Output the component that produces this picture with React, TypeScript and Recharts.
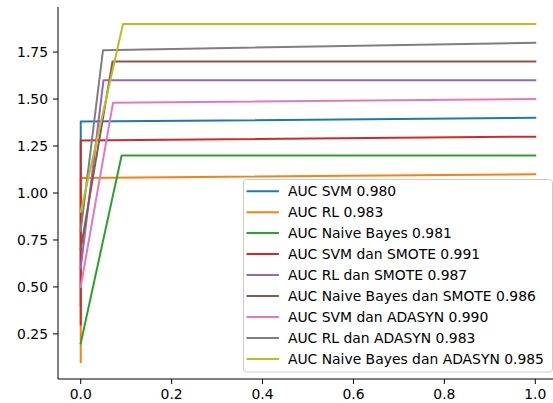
import React from 'react';
import { LineChart, Line, XAxis, YAxis } from 'recharts';

// points: x values and y values for each curve
const xSvm = [0, 0, 1];
const ySvm = [0.4, 1.38, 1.4];
const xRl = [0, 0, 1];
const yRl = [0.1, 1.08, 1.1];
const xNb = [0, 0.09, 1];
const yNb = [0.2, 1.2, 1.2];
const xSvmSmote = [0, 0, 1];
const ySvmSmote = [0.3, 1.28, 1.3];
const xRlSmote = [0, 0.05, 1];
const yRlSmote = [0.6, 1.6, 1.6];
const xNbSmote = [0, 0.07, 1];
const yNbSmote = [0.7, 1.7, 1.7];
const xSvmAdasyn = [0, 0.071, 1];
const ySvmAdasyn = [0.5, 1.48, 1.5];
const xRlAdasyn = [0, 0.049, 1];
const yRlAdasyn = [0.8, 1.76, 1.8];
const xNbAdasyn = [0, 0.093, 1];
const yNbAdasyn = [0.9, 1.9, 1.9];

const labels = [
    'AUC SVM 0.980',
    'AUC RL 0.983',
    'AUC Naive Bayes 0.981',
    'AUC SVM dan SMOTE 0.991',
    'AUC RL dan SMOTE 0.987',
    'AUC Naive Bayes dan SMOTE 0.986',
    'AUC SVM dan ADASYN 0.990',
    'AUC RL dan ADASYN 0.983',
    'AUC Naive Bayes dan ADASYN 0.985',
];

const xTicks = [0, 0.2, 0.4, 0.6, 0.8, 1.0];
const yTicks = [0.25, 0.5, 0.75, 1.0, 1.25, 1.5, 1.75];

const colors = ['#1f77b4', '#ff7f0e', '#2ca02c', '#d62728', '#9467bd', '#8c564b', '#e377c2', '#7f7f7f', '#bcbd22'];

const xs = [xSvm, xRl, xNb, xSvmSmote, xRlSmote, xNbSmote, xSvmAdasyn, xRlAdasyn, xNbAdasyn];
const ys = [ySvm, yRl, yNb, ySvmSmote, yRlSmote, yNbSmote, ySvmAdasyn, yRlAdasyn, yNbAdasyn];

const series = labels.map((label, i) => ({
    label,
    color: colors[i],
    data: xs[i].map((x, j) => ({ x, y: ys[i][j] })),
}));

const font = '"DejaVu Sans", sans-serif';
const tickStyle = { fontSize: 13.9, fill: '#000', fontFamily: font };

function LegendBox() {
    const rowH = 20.96;
    return (
        <svg width={311} height={194} style={{ position: 'absolute', left: 242.8, top: 178.5 }}>
            <rect x={0.5} y={0.5} width={309} height={192.5} rx={3} fill="rgba(255,255,255,0.8)" stroke="#cccccc" strokeWidth={1} />
            {series.map((s, i) => {
                const cy = 12.2 + i * rowH;
                return (
                    <g key={s.label}>
                        <line x1={4.5} x2={34.9} y1={cy} y2={cy} stroke={s.color} strokeWidth={2} strokeLinecap="square" />
                        <text x={44.9} y={cy + 5} fontSize={13.9} fontFamily={font} fill="#000">{s.label}</text>
                    </g>
                );
            })}
        </svg>
    );
}

export default function App() {
    return (
        <div style={{ position: 'fixed', left: 0, top: 0, width: 553, height: 403, overflow: 'hidden', background: '#fff' }}>
            <LineChart width={563} height={403} margin={{ top: 7, right: 5, bottom: 0, left: 0 }} style={{ fontFamily: font }}>
                <XAxis
                    dataKey="x"
                    type="number"
                    domain={[-0.05, 1.05]}
                    ticks={xTicks}
                    tickFormatter={(v: number) => v.toFixed(1)}
                    tick={tickStyle}
                    height={24}
                    tickSize={5}
                    tickMargin={5}
                    stroke="#000"
                    allowDataOverflow
                />
                <XAxis
                    xAxisId="top"
                    orientation="top"
                    dataKey="x"
                    type="number"
                    domain={[-0.05, 1.05]}
                    tick={false}
                    tickLine={false}
                    height={0}
                    stroke="#000"
                    allowDataOverflow
                />
                <YAxis
                    type="number"
                    domain={[0.01, 1.99]}
                    ticks={yTicks}
                    tickFormatter={(v: number) => v.toFixed(2)}
                    tick={tickStyle}
                    width={58}
                    tickSize={5}
                    tickMargin={5}
                    stroke="#000"
                    allowDataOverflow
                />
                {series.map((s) => (
                    <Line
                        key={s.label}
                        data={s.data}
                        dataKey="y"
                        type="linear"
                        stroke={s.color}
                        strokeWidth={2}
                        strokeLinejoin="round"
                        strokeLinecap="square"
                        dot={false}
                        activeDot={false}
                        isAnimationActive={false}
                    />
                ))}
            </LineChart>
            <LegendBox />
        </div>
    );
}
